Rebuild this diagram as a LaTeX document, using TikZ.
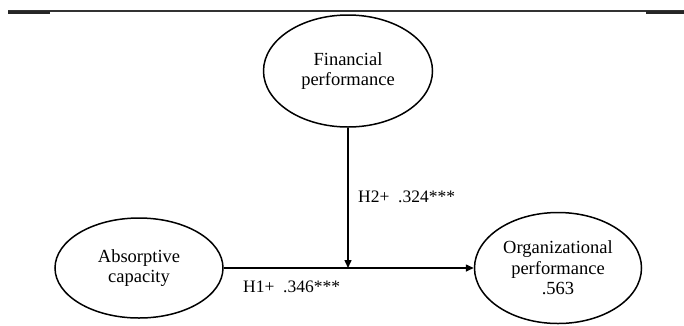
\documentclass[tikz,border=0pt]{standalone}
\usepackage{fontspec}
\setmainfont{Liberation Serif}
\usetikzlibrary{shapes.geometric,arrows.meta}
\begin{document}
\begin{tikzpicture}[x=1pt,y=-1pt,
  construct/.style={ellipse,draw,line width=1.5pt,align=center,inner sep=0pt,
    font=\fontsize{18.5}{20.5}\selectfont},
  link/.style={line width=1.5pt,-{Triangle[length=8pt,width=7pt]}},
  lbl/.style={anchor=base west,inner sep=0pt,font=\fontsize{17.5}{20}\selectfont}]
\useasboundingbox (0,0) rectangle (684,325);
\draw[line width=1.3pt,black!80] (8,11) -- (684,11);
\draw[line width=2.8pt,black!85] (8,12.5) -- (50,12.5);
\draw[line width=2.8pt,black!85] (646,12.5) -- (684,12.5);
\node[construct,minimum width=169pt,minimum height=112pt] (fin) at (348,71) {Financial\\performance};
\node[construct,minimum width=168pt,minimum height=100pt] (abs) at (139,268) {Absorptive\\capacity};
\node[construct,minimum width=167pt,minimum height=111pt] (org) at (558,268) {Organizational\\performance\\.563};
\coordinate (j) at (fin.south |- abs.east);
\draw[link] (abs.east) -- (org.west);
\draw[link] (fin.south) -- (j);
\node[lbl] (h2) at (358,202) {H2+\hspace{0.5em}.324***};
\node[lbl] (h1) at (243,292) {H1+\hspace{0.5em}.346***};
\end{tikzpicture}
\end{document}
